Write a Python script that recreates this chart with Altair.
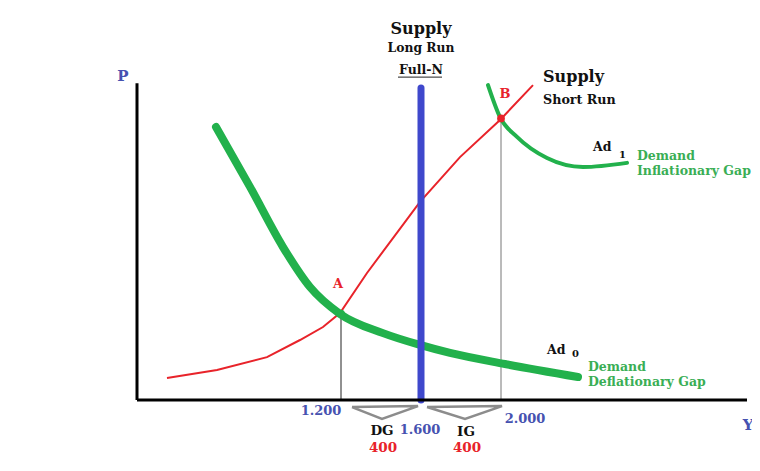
import altair as alt
import pandas as pd

# ---- data (Y = output, P = price level, arbitrary P units) ----
sras_y = [330, 580, 830, 995, 1110, 1195, 1330, 1595, 1795, 1995, 2160]
sras_p = [6.9, 9.4, 13.4, 18.75, 22.8, 27.2, 39.7, 61.9, 75.9, 87.5, 98.4]

ad0_y = [575, 745, 910, 1045, 1195, 1410, 1595, 1745, 2020, 2385]
ad0_p = [85.3, 66.6, 47.8, 35.3, 26.9, 20.9, 17.2, 14.7, 11.25, 7.2]

ad1_y = [1935, 1995, 2080, 2230, 2410, 2630]
ad1_p = [98.4, 88.4, 82.2, 75.6, 72.8, 74.1]

lras_y = 1600
lras_top = 97.5

eq_names = ["A", "B"]
eq_y = [1200, 2000]
eq_p = [27.0, 88.0]

tick_labels = ["1.200", "1.600", "2.000"]
gap_names = ["DG", "IG"]
gap_sizes = ["400", "400"]
gap_left = [1255, 1630]
gap_right = [1585, 2005]
gap_apex = [1405, 1820]

axis_start_y = 180
axis_end_y = 3230
axis_top_p = 99

# ---- styling ----
RED = "#e8232a"
GREEN = "#22b14c"
BLUE = "#3f48cc"
TXT_GREEN = "#3aae55"
TXT_BLUE = "#4652b0"
FONT = "DejaVu Serif"

X = alt.Scale(domain=[-465, 3255], nice=False, zero=False)
Y = alt.Scale(domain=[-19.6875, 122.5], nice=False, zero=False)


def xy(df_x, df_y):
    return dict(x=alt.X(df_x, type="quantitative", scale=X, axis=None),
                y=alt.Y(df_y, type="quantitative", scale=Y, axis=None))


# axes
axes_df = pd.DataFrame({
    "x": [axis_start_y, axis_start_y], "y": [0, 0],
    "x2": [axis_end_y, axis_start_y], "y2": [0, axis_top_p]})
axes = alt.Chart(axes_df).mark_rule(color="black", strokeWidth=3).encode(
    **xy("x", "y"), x2="x2", y2="y2")

# guide lines at A and B
guide_df = pd.DataFrame({"x": eq_y, "y0": [0, 0], "y1": eq_p, "c": ["#222222", "#777777"]})
guides = alt.Chart(guide_df).mark_rule(strokeWidth=1).encode(
    **xy("x", "y0"), y2="y1", color=alt.Color("c:N", scale=None))

# long-run supply
lras_df = pd.DataFrame({"x": [lras_y], "y0": [0], "y1": [lras_top]})
lras = alt.Chart(lras_df).mark_rule(color=BLUE, strokeWidth=7, strokeCap="round").encode(
    **xy("x", "y0"), y2="y1")

# curves
sras_df = pd.DataFrame({"x": sras_y, "y": sras_p})
sras = alt.Chart(sras_df).mark_line(color=RED, strokeWidth=2).encode(**xy("x", "y"))

ad0_df = pd.DataFrame({"x": ad0_y, "y": ad0_p})
ad0 = alt.Chart(ad0_df).mark_line(color=GREEN, strokeWidth=8, strokeCap="round",
                                  interpolate="monotone").encode(**xy("x", "y"))

ad1_df = pd.DataFrame({"x": ad1_y, "y": ad1_p})
ad1 = alt.Chart(ad1_df).mark_line(color=GREEN, strokeWidth=4, strokeCap="round",
                                  interpolate="monotone").encode(**xy("x", "y"))

# equilibrium dots
dots_df = pd.DataFrame({"x": eq_y, "y": eq_p, "c": [GREEN, RED]})
dots = alt.Chart(dots_df).mark_circle(size=60, opacity=1).encode(
    **xy("x", "y"), color=alt.Color("c:N", scale=None))

# gap brackets (triangles below axis)
br_rows = []
for i in range(2):
    br_rows += [
        {"g": i, "o": 0, "x": gap_left[i], "y": -2.2},
        {"g": i, "o": 1, "x": gap_apex[i], "y": -5.9},
        {"g": i, "o": 2, "x": gap_right[i], "y": -1.9},
        {"g": i, "o": 3, "x": gap_left[i], "y": -2.2},
    ]
br_df = pd.DataFrame(br_rows)
brackets = alt.Chart(br_df).mark_line(color="#8c8c8c", strokeWidth=2.5).encode(
    **xy("x", "y"), detail="g:N", order="o:Q")

# underline for Full-N
ul_df = pd.DataFrame({"x": [1485], "x2": [1705], "y": [100.9]})
underline = alt.Chart(ul_df).mark_rule(color="#222222", strokeWidth=1).encode(
    **xy("x", "y"), x2="x2")

# texts
center_texts = pd.DataFrame([
    {"t": "P", "x": 110, "y": 101.3, "c": TXT_BLUE, "s": 15},
    {"t": "Y", "x": 3235, "y": -7.8, "c": TXT_BLUE, "s": 15},
    {"t": "Supply", "x": 1600, "y": 115.9, "c": "#111111", "s": 16},
    {"t": "Long Run", "x": 1600, "y": 110.0, "c": "#111111", "s": 12.3},
    {"t": "Full-N", "x": 1600, "y": 103.0, "c": "#111111", "s": 12.5},
    {"t": eq_names[1], "x": 2020, "y": 95.6, "c": RED, "s": 13},
    {"t": eq_names[0], "x": 1185, "y": 36.3, "c": RED, "s": 13},
    {"t": tick_labels[0], "x": 1100, "y": -3.4, "c": TXT_BLUE, "s": 13},
    {"t": tick_labels[1], "x": 1595, "y": -9.4, "c": TXT_BLUE, "s": 13},
    {"t": tick_labels[2], "x": 2120, "y": -5.9, "c": TXT_BLUE, "s": 13},
    {"t": gap_names[0], "x": 1405, "y": -9.8, "c": "#111111", "s": 13.5},
    {"t": gap_sizes[0], "x": 1410, "y": -14.9, "c": RED, "s": 13.5},
    {"t": gap_names[1], "x": 1825, "y": -9.9, "c": "#111111", "s": 13.5},
    {"t": gap_sizes[1], "x": 1830, "y": -14.9, "c": RED, "s": 13.5},
])
left_texts = pd.DataFrame([
    {"t": "Supply", "x": 2210, "y": 100.9, "c": "#111111", "s": 16},
    {"t": "Short Run", "x": 2210, "y": 93.75, "c": "#111111", "s": 12.7},
    {"t": "Ad", "x": 2460, "y": 79.1, "c": "#111111", "s": 12.5},
    {"t": "1", "x": 2590, "y": 76.6, "c": "#111111", "s": 10},
    {"t": "Demand", "x": 2680, "y": 76.25, "c": TXT_GREEN, "s": 12.5},
    {"t": "Inflationary Gap", "x": 2680, "y": 71.6, "c": TXT_GREEN, "s": 12.5},
    {"t": "Ad", "x": 2230, "y": 15.6, "c": "#111111", "s": 12.5},
    {"t": "0", "x": 2355, "y": 14.4, "c": "#111111", "s": 10},
    {"t": "Demand", "x": 2435, "y": 10.3, "c": TXT_GREEN, "s": 12.5},
    {"t": "Deflationary Gap", "x": 2435, "y": 5.6, "c": TXT_GREEN, "s": 12.5},
])


def text_layer(df, align):
    return alt.Chart(df).mark_text(font=FONT, fontWeight="bold", align=align,
                                   baseline="middle").encode(
        **xy("x", "y"), text="t:N",
        color=alt.Color("c:N", scale=None),
        size=alt.Size("s:Q", scale=None))


chart = alt.layer(
    guides, brackets, sras, ad0, ad1, lras, axes, dots, underline,
    text_layer(center_texts, "center"), text_layer(left_texts, "left"),
).properties(
    width=744, height=455,
    autosize=alt.AutoSizeParams(type="none"), padding=0,
).configure_view(stroke=None)

chart.save("out.html", embed_options={"renderer": "svg", "actions": False})
